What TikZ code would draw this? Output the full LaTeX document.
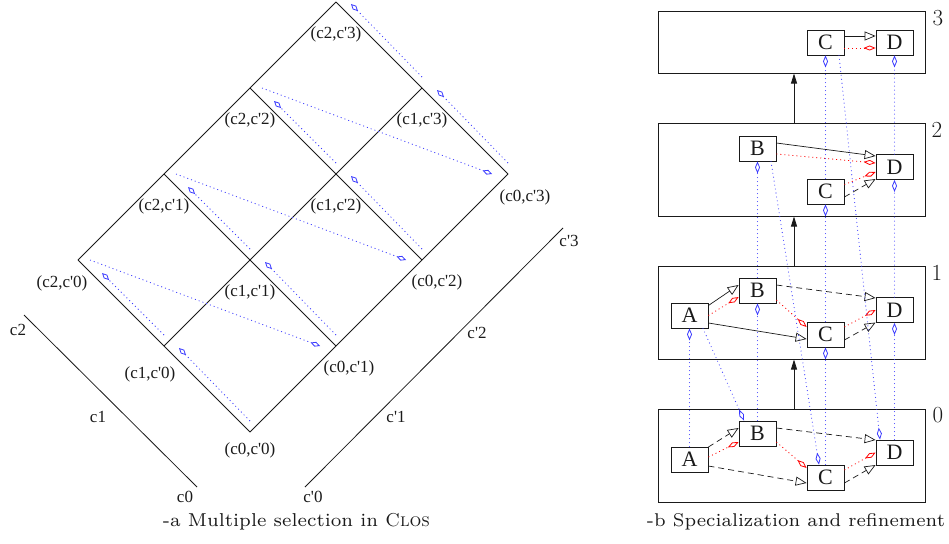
\documentclass[tikz,border=0pt]{standalone}
\usepackage{fontspec}
\usepackage{graphicx}
\usepackage{xcolor}
\usetikzlibrary{arrows.meta,calc}
\newfontfamily\timesfont{Liberation Serif}
\definecolor{figink}{HTML}{1A1A1A}
\definecolor{refblue}{HTML}{3A3AFF}
\definecolor{specred}{HTML}{FF0000}

\begin{document}
\begin{tikzpicture}[x=1pt, y=-1pt,
    every node/.style={figink},
    lbl/.style={font=\timesfont\fontsize{17}{17}\selectfont, inner sep=0pt},
    lvlnum/.style={font=\fontsize{23}{23}\selectfont, inner sep=0pt},
    cls/.style={draw=figink, line width=0.8pt, minimum width=37pt, minimum height=25pt,
                inner sep=0pt, font=\timesfont\fontsize{22}{22}\selectfont},
    lvl/.style={draw=figink, line width=1pt, minimum width=267pt, inner sep=0pt},
    lattice/.style={figink, line width=0.8pt},
    sel/.style={refblue, line width=0.8pt, dash pattern=on 1pt off 3pt,
                -{Diamond[open,length=10pt,width=5pt]}},
    refine/.style={refblue, line width=1.1pt, line cap=round, dash pattern=on 0pt off 4pt,
                   -{Diamond[open,length=12pt,width=5pt,line width=0.8pt]}},
    spec/.style={specred, line width=0.8pt, dash pattern=on 1pt off 3pt,
                 -{Diamond[open,length=12pt,width=5pt]}},
    inh/.style={figink, line width=0.7pt, -{Triangle[open,length=11pt,width=9pt]}},
    inhd/.style={inh, dash pattern=on 6pt off 4pt},
    levelarrow/.style={figink, line width=0.9pt, -{Triangle[length=10pt,width=6pt]}}]

  \useasboundingbox (0,0) rectangle (949,543);

  %% 格點 (ci,c'j)
  \foreach \i in {0,1,2} {
    \foreach \j in {0,1,2,3} {
      \coordinate (p\i\j) at ({250-86*\i+86*\j},{432-86*\i-86*\j});
    }
  }
  \foreach \i in {0,1,2} \draw[lattice] (p\i0) -- (p\i3);
  \foreach \j in {0,1,2,3} \draw[lattice] (p0\j) -- (p2\j);

  %% 格點標號
  \node[lbl] (l00) at ($(p00)+(0,18)$) {(c0,c'0)};
  \node[lbl] (l10) at ($(p10)+(-14,28)$) {(c1,c'0)};
  \node[lbl] (l20) at ($(p20)+(-16,23)$) {(c2,c'0)};
  \node[lbl] (l01) at ($(p01)+(13,22)$) {(c0,c'1)};
  \node[lbl] (l02) at ($(p02)+(15,22)$) {(c0,c'2)};
  \node[lbl] (l03) at ($(p03)+(17,23)$) {(c0,c'3)};
  \foreach \i in {1,2} {
    \foreach \j in {1,2,3} {
      \node[lbl] (l\i\j) at ($(p\i\j)+(0,32)$) {(c\i,c'\j)};
    }
  }

  %% 選擇的次序
  \foreach \j in {0,1,2,3}
    \draw[sel] ($(p0\j)+(0,-11)$) -- ($(p1\j)+(15,2)$);
  \foreach \j in {0,1,2}
    \draw[sel] ($(p1\j)+(0,-11)$) -- ($(p2\j)+(24,13)$);
  \draw[sel] ($(p13)+(0,-11)$) -- ($(p23)+(15,2)$);
  \foreach \j/\k in {0/1,1/2,2/3}
    \draw[sel] ($(p2\j)+(12,0)$) -- ($(p0\k)+(-16,0)$);

  %% 兩條投影軸
  \coordinate (ctop) at (24,315);
  \coordinate (cbot) at (197,487);
  \coordinate (dbot) at (305,487);
  \coordinate (dtop) at (563,228);
  \draw[lattice] (ctop) -- (cbot);
  \draw[lattice] (dbot) -- (dtop);
  \node[lbl] (ax2) at (18,330) {c2};
  \node[lbl] (ax1) at (98,417) {c1};
  \node[lbl] (ax0) at (185,497) {c0};
  \node[lbl] (bx0) at (313,497) {c'0};
  \node[lbl] (bx1) at (396,417) {c'1};
  \node[lbl] (bx2) at (477,333) {c'2};
  \node[lbl] (bx3) at (569,241) {c'3};

  \node (capa) at (296.5,522)
    {\resizebox{267pt}{!}{\fontsize{7}{8}\selectfont -a Multiple selection in \textsc{Clos}}};

  %% 四個層次
  \node[lvl, minimum height=61pt] (L3) at (791.5,42.5) {};
  \node[lvl, minimum height=93pt] (L2) at (791.5,169.5) {};
  \node[lvl, minimum height=93pt] (L1) at (791.5,312.5) {};
  \node[lvl, minimum height=93pt] (L0) at (791.5,455.5) {};
  \node[lvlnum] (n3) at (938,18) {3};
  \node[lvlnum] (n2) at (937,130) {2};
  \node[lvlnum] (n1) at (937,273) {1};
  \node[lvlnum] (n0) at (938,415) {0};

  \draw[levelarrow] ([xshift=2.5pt]L0.north) -- ([xshift=2.5pt]L1.south);
  \draw[levelarrow] ([xshift=2.5pt]L1.north) -- ([xshift=2.5pt]L2.south);
  \draw[levelarrow] ([xshift=2.5pt]L2.north) -- ([xshift=2.5pt]L3.south);

  %% 各層的類別
  \node[cls] (C3) at (825.5,42.5) {C};
  \node[cls] (D3) at (894.5,42.5) {D};

  \node[cls] (B2) at (757.5,148.5) {B};
  \node[cls] (D2) at (894.5,167) {D};
  \node[cls] (C2) at (825.5,191.5) {C};

  \node[cls] (A1) at (689.5,315.5) {A};
  \node[cls] (B1) at (757.5,290.5) {B};
  \node[cls] (C1) at (825.5,334.5) {C};
  \node[cls] (D1) at (894.5,310) {D};

  \node[cls] (A0) at (689.5,459.5) {A};
  \node[cls] (B0) at (757.5,433.5) {B};
  \node[cls] (C0) at (825.5,477.5) {C};
  \node[cls] (D0) at (894.5,452.5) {D};

  %% 第 3 層
  \draw[inh] ([yshift=6.5pt]C3.east) -- ([yshift=6.5pt]D3.west);
  \draw[spec] ([yshift=-5.5pt]C3.east) -- ([yshift=-5.5pt]D3.west);

  %% 第 2 層
  \draw[inh] ([yshift=5.5pt]B2.east) -- ([yshift=11pt]D2.west);
  \draw[spec] ([yshift=-5.5pt]B2.east) -- ([yshift=4pt]D2.west);
  \draw[spec] ([yshift=7pt]C2.east) -- ([yshift=-5pt]D2.west);
  \draw[inhd] ([yshift=-5.5pt]C2.east) -- ([yshift=-12pt]D2.west);

  %% 第 1 層
  \draw[inh] ([yshift=10pt]A1.east) -- ([yshift=5.5pt]B1.west);
  \draw[spec] (A1.east) -- ([yshift=-6.5pt]B1.west);
  \draw[inh] ([yshift=-7.5pt]A1.east) -- ([yshift=-4.5pt]C1.west);
  \draw[inhd] ([yshift=5.5pt]B1.east) -- ([yshift=12pt]D1.west);
  \draw[spec] ([yshift=-9.5pt]B1.east) -- ([yshift=7.5pt]C1.west);
  \draw[spec] ([yshift=7.5pt]C1.east) -- (D1.west);
  \draw[inhd] ([yshift=-5.5pt]C1.east) -- ([yshift=-12.5pt]D1.west);

  %% 第 0 層
  \draw[inhd] ([yshift=12.5pt]A0.east) -- ([yshift=5.5pt]B0.west);
  \draw[spec] ([yshift=2.5pt]A0.east) -- ([yshift=-8.5pt]B0.west);
  \draw[inhd] ([yshift=-6.5pt]A0.east) -- ([yshift=-5.5pt]C0.west);
  \draw[inhd] ([yshift=5.5pt]B0.east) -- ([yshift=12.5pt]D0.west);
  \draw[spec] ([yshift=-8.5pt]B0.east) -- ([yshift=9.5pt]C0.west);
  \draw[spec] ([yshift=7.5pt]C0.east) -- (D0.west);
  \draw[inhd] ([yshift=-5.5pt]C0.east) -- ([yshift=-12.5pt]D0.west);

  %% 層與層之間的精化
  \foreach \n in {A,B,C,D} \draw[refine] (\n0.north) -- (\n1.south);
  \foreach \n in {B,C,D} \draw[refine] (\n1.north) -- (\n2.south);
  \foreach \n in {C,D} \draw[refine] (\n2.north) -- (\n3.south);
  \draw[refine] ([xshift=13.5pt]A1.south) -- ([xshift=-13.5pt]B0.north);
  \draw[refine] ([xshift=13.5pt]B2.south) -- ([xshift=-6.5pt]C0.north);
  \draw[refine] ([xshift=13.5pt]C3.south) -- ([xshift=-14.5pt]D0.north);

  \node (capb) at (796,522)
    {\resizebox{298pt}{!}{\fontsize{7}{8}\selectfont -b Specialization and refinement}};

\end{tikzpicture}
\end{document}
